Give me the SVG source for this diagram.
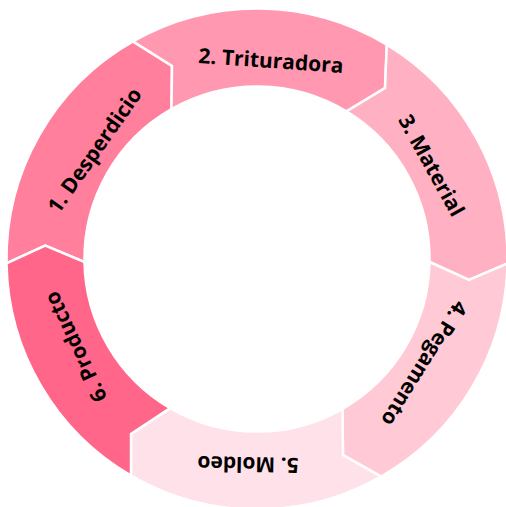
<svg xmlns="http://www.w3.org/2000/svg" width="506" height="507" viewBox="0 0 506 507">
<style>
.seg{stroke:#ffffff;stroke-width:2.5;stroke-linejoin:miter}
.lbl{font-family:"Open Sans","Noto Sans","Liberation Sans",sans-serif;font-weight:bold;font-size:21px;fill:#000000;text-anchor:middle;dominant-baseline:central}
</style>
<rect width="506" height="507" fill="#ffffff"/>
<g id="node1">
<path class="seg" fill="#FF7F9C" d="M6.5,263.4 A250.5,250.5 0 0 1 132.9,41.4 L172,66 L171.5,109.2 A172.5,172.5 0 0 0 84.5,262 L45.2,245.7 Z"/>
<text class="lbl" transform="translate(94,150) rotate(-55)">1. Desperdicio</text>
</g>
<g id="node2">
<path class="seg" fill="#FF98B0" d="M132.9,41.4 A250.5,250.5 0 0 1 386.8,44.7 L385,88 L346.4,111.4 A172.5,172.5 0 0 0 171.5,109.2 L172,66 Z"/>
<text class="lbl" transform="translate(271,60) rotate(4)">2. Trituradora</text>
</g>
<g id="node3">
<path class="seg" fill="#FFB0C2" d="M386.8,44.7 A250.5,250.5 0 0 1 507.5,263.4 L469,280 L429.5,262 A172.5,172.5 0 0 0 346.4,111.4 L385,88 Z"/>
<text class="lbl" transform="translate(432,165) rotate(61)">3. Material</text>
</g>
<g id="node4">
<path class="seg" fill="#FFC9D5" d="M507.5,263.4 A250.5,250.5 0 0 1 381.1,476.6 L343,455 L342.5,408.8 A172.5,172.5 0 0 0 429.5,262 L469,280 Z"/>
<text class="lbl" transform="translate(425,364) rotate(122)">4. Pegamento</text>
</g>
<g id="node5">
<path class="seg" fill="#FFE2E9" d="M381.1,476.6 A250.5,250.5 0 0 1 131,475.5 L131,434 L170.2,408.1 A172.5,172.5 0 0 0 342.5,408.8 L343,455 Z"/>
<text class="lbl" transform="translate(248,465) rotate(181)">5. Moldeo</text>
</g>
<g id="node6">
<path class="seg" fill="#FF6689" d="M131,475.5 A250.5,250.5 0 0 1 6.5,263.4 L45.2,245.7 L84.5,262 A172.5,172.5 0 0 0 170.2,408.1 L131,434 Z"/>
<text class="lbl" transform="translate(75,347) rotate(-115)">6. Producto</text>
</g>
</svg>
